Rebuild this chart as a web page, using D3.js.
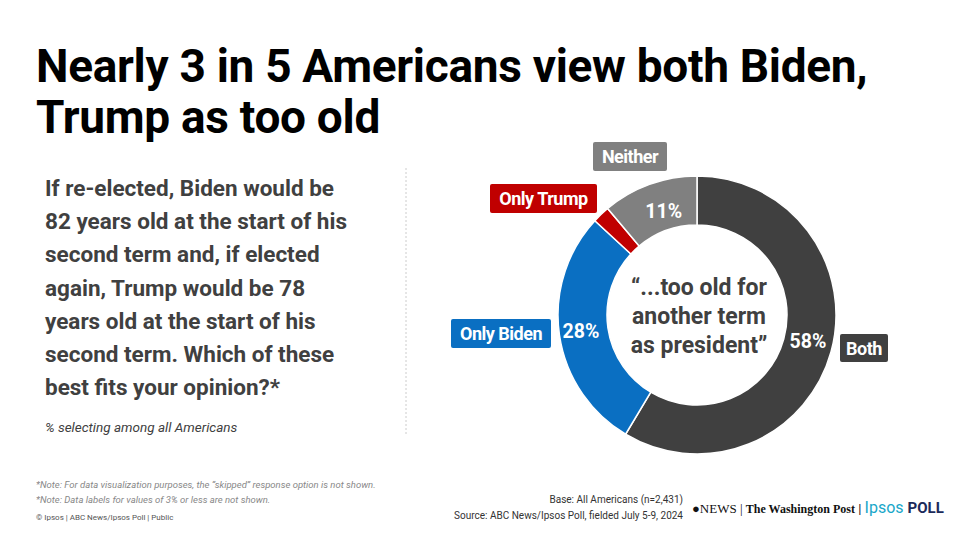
<!DOCTYPE html>
<html><head><meta charset="utf-8">
<script src="https://cdn.jsdelivr.net/npm/d3@7"></script>
<style>
body{margin:0;background:#fff;font-family:Roboto,"Noto Sans",sans-serif;}
</style></head>
<body><div id="chart"></div>
<script>
const categories = ['Both', 'Only Biden', 'Only Trump', 'Neither'];
const values = [58, 28, 2, 11];
const colors = ['#404040', '#0a6fc2', '#c00000', '#808080'];
const shownLabels = ['58%', '28%', '', '11%'];

const W = 960, H = 540;
const svg = d3.select('#chart').append('svg').attr('width', W).attr('height', H)
    .style('font-family', 'Roboto, sans-serif');

// title
svg.append('text').attr('x', 36).attr('y', 82).attr('font-size', 46).attr('font-weight', 700)
    .attr('fill', '#000').attr('letter-spacing', -0.3).text('Nearly 3 in 5 Americans view both Biden,');
svg.append('text').attr('x', 36).attr('y', 133).attr('font-size', 46).attr('font-weight', 700)
    .attr('fill', '#000').attr('letter-spacing', -0.3).text('Trump as too old');

// question
const q = ['If re-elected,  Biden would be', '82 years old at the start of his', 'second term and, if elected',
    'again, Trump would be 78', 'years old at the start of his', 'second term. Which of these',
    'best fits your opinion?*'];
svg.append('g').selectAll('text').data(q).enter().append('text')
    .attr('x', 45).attr('y', (d, i) => 196 + i * 33.2)
    .attr('font-size', 22.5).attr('font-weight', 700).attr('fill', '#404040').text(d => d);
svg.append('text').attr('x', 45).attr('y', 432).attr('font-size', 13.5).attr('font-style', 'italic')
    .attr('fill', '#404040').text('% selecting among all Americans');

svg.append('line').attr('x1', 406).attr('x2', 406).attr('y1', 168).attr('y2', 436)
    .attr('stroke', '#ccc').attr('stroke-dasharray', '2,2');

// donut
const cx = 697, cy = 315, rOuter = 139, rInner = 90;
const g = svg.append('g').attr('transform', `translate(${cx},${cy})`);
const pie = d3.pie().sort(null).value(d => d)(values);
const arc = d3.arc().innerRadius(rInner).outerRadius(rOuter);
g.selectAll('path').data(pie).enter().append('path')
    .attr('d', arc).attr('fill', (d, i) => colors[i]).attr('stroke', '#fff').attr('stroke-width', 1.5);

const labelArc = d3.arc().innerRadius(rInner + 22).outerRadius(rInner + 22);
g.selectAll('text.val').data(pie).enter().append('text').attr('class', 'val')
    .attr('transform', (d, i) => {
        const c = labelArc.centroid(d);
        if (i === 0) return `translate(${rOuter - 28},${33})`;
        if (i === 1) return `translate(${-rOuter + 23},${23})`;
        return `translate(${c[0] + 5},${c[1] + 8})`;
    })
    .attr('text-anchor', 'middle').attr('font-size', 19.5).attr('font-weight', 700).attr('fill', '#fff')
    .text((d, i) => shownLabels[i]);

const center = ['\u201c...too old for', 'another term', 'as president\u201d'];
g.selectAll('text.c').data(center).enter().append('text').attr('class', 'c')
    .attr('x', 2).attr('y', (d, i) => -20 + i * 29).attr('text-anchor', 'middle')
    .attr('font-size', 23).attr('font-weight', 700).attr('fill', '#404040').text(d => d);

// category badges
const badges = [
    {x: 840, y: 334, w: 48, h: 28},
    {x: 451, y: 319, w: 100, h: 29},
    {x: 490, y: 184, w: 107, h: 29},
    {x: 593, y: 142, w: 74, h: 29}
];
const bg = svg.append('g').selectAll('g').data(categories).enter().append('g')
    .attr('transform', (d, i) => `translate(${badges[i].x},${badges[i].y})`);
bg.append('rect').attr('width', (d, i) => badges[i].w).attr('height', (d, i) => badges[i].h)
    .attr('rx', 2).attr('fill', (d, i) => colors[i]);
bg.append('text').attr('x', (d, i) => badges[i].w / 2).attr('y', (d, i) => badges[i].h / 2 + 6.5)
    .attr('text-anchor', 'middle').attr('font-size', 18).attr('font-weight', 700)
    .attr('fill', '#fff').attr('letter-spacing', -0.5).text(d => d);

// footer
const notes = ['*Note: For data visualization purposes, the \u201cskipped\u201d response option is not shown.',
    '*Note: Data labels for values of 3% or less are not shown.'];
svg.append('g').selectAll('text').data(notes).enter().append('text')
    .attr('x', 36).attr('y', (d, i) => 488 + i * 15).attr('font-size', 9.5).attr('font-style', 'italic')
    .attr('fill', '#888').text(d => d);
svg.append('text').attr('x', 36).attr('y', 520).attr('font-size', 8).attr('fill', '#555')
    .text('\u00a9 Ipsos | ABC News/Ipsos Poll | Public');
svg.append('text').attr('x', 683).attr('y', 503).attr('text-anchor', 'end').attr('font-size', 10)
    .attr('fill', '#333').text('Base: All Americans (n=2,431)');
svg.append('text').attr('x', 683).attr('y', 519).attr('text-anchor', 'end').attr('font-size', 10)
    .attr('fill', '#333').text('Source: ABC News/Ipsos  Poll, fielded July 5-9, 2024');

const logo = svg.append('text').attr('x', 692).attr('y', 513).attr('font-size', 13);
logo.append('tspan').attr('font-family', 'Liberation Serif, serif').attr('fill', '#111').text('\u25cfNEWS | ');
logo.append('tspan').attr('font-family', 'Liberation Serif, serif').attr('font-weight', 700).attr('fill', '#111')
    .attr('font-size', 12).text('The Washington Post');
logo.append('tspan').attr('fill', '#111').text(' | ');
logo.append('tspan').attr('fill', '#19a7c9').attr('font-size', 16).text('Ipsos ');
logo.append('tspan').attr('fill', '#1b2a5a').attr('font-weight', 700).attr('font-size', 15).text('POLL');
</script></body></html>
